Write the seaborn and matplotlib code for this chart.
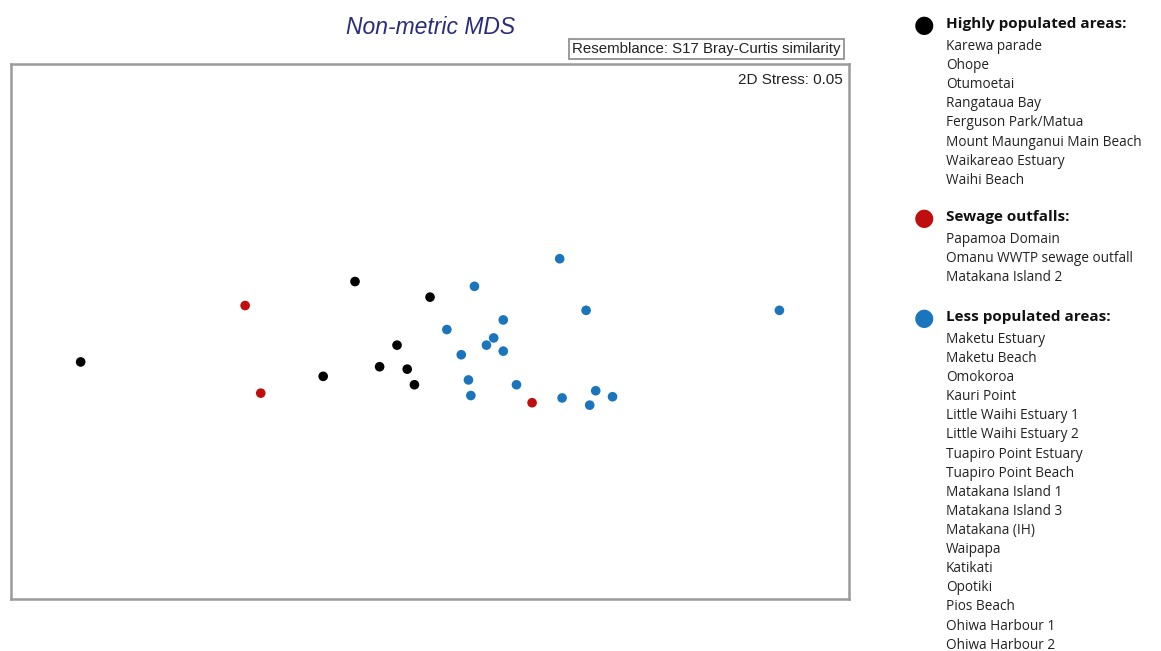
import matplotlib
matplotlib.use("Agg")
import matplotlib.pyplot as plt
import seaborn as sns
import pandas as pd

# nMDS ordination coordinates per sampling site, grouped by area type
groups = ["Highly populated areas:", "Sewage outfalls:", "Less populated areas:"]

high_x = [-2.91, -0.625, 0.00, -0.275, -0.42, -0.19, -0.13, -0.89]
high_y = [-0.25, 0.42, 0.29, -0.11, -0.29, -0.31, -0.44, -0.37]

sewage_x = [-1.54, -1.41, 0.85]
sewage_y = [0.22, -0.51, -0.59]

low_x = [1.08, 0.37, 1.30, 2.91, 0.61, 0.14, 0.53, 0.47, 0.61, 0.26,
         0.32, 0.72, 0.34, 1.10, 1.38, 1.52, 1.33]
low_y = [0.61, 0.38, 0.18, 0.18, 0.10, 0.02, -0.05, -0.11, -0.16, -0.19,
         -0.40, -0.44, -0.53, -0.55, -0.49, -0.54, -0.61]

high_sites = ["Karewa parade", "Ohope", "Otumoetai", "Rangataua Bay",
              "Ferguson Park/Matua", "Mount Maunganui Main Beach",
              "Waikareao Estuary", "Waihi Beach"]
sewage_sites = ["Papamoa Domain", "Omanu WWTP sewage outfall", "Matakana Island 2"]
low_sites = ["Maketu Estuary", "Maketu Beach", "Omokoroa", "Kauri Point",
             "Little Waihi Estuary 1", "Little Waihi Estuary 2",
             "Tuapiro Point Estuary", "Tuapiro Point Beach", "Matakana Island 1",
             "Matakana Island 3", "Matakana (IH)", "Waipapa", "Katikati",
             "Opotiki", "Pios Beach", "Ohiwa Harbour 1", "Ohiwa Harbour 2"]

colors = ["#000000", "#c00d0d", "#1a75bc"]

df = pd.DataFrame({
    "x": high_x + sewage_x + low_x,
    "y": high_y + sewage_y + low_y,
    "group": [groups[0]] * len(high_x) + [groups[1]] * len(sewage_x)
             + [groups[2]] * len(low_x),
})

sns.set_style("white")
fig = plt.figure(figsize=(11.61, 6.51), dpi=100)
ax = fig.add_axes([0.0095, 0.080, 0.7218, 0.8217])

sns.scatterplot(data=df, x="x", y="y", hue="group", hue_order=groups,
                palette=colors, s=48, linewidth=0, legend=False, ax=ax)

ax.set_xlim(-3.49, 3.49)
ax.set_ylim(-2.225, 2.233)
ax.set_xticks([])
ax.set_yticks([])
ax.set_xlabel("")
ax.set_ylabel("")
for sp in ax.spines.values():
    sp.set_visible(True)
    sp.set_color("#9a9a9a")
    sp.set_linewidth(1.8)

ax.text(0.993, 0.983, "2D Stress: 0.05", transform=ax.transAxes,
        ha="right", va="top", fontsize=11, family="Liberation Sans", color="#222222")

fig.text(0.371, 0.957, "Non-metric MDS", ha="center", va="center",
         fontsize=16.5, style="italic", family="Liberation Sans", color="#2c2c7c")

fig.text(0.6085, 0.925, "Resemblance: S17 Bray-Curtis similarity", ha="center",
         va="center", fontsize=10.8, family="Liberation Sans", color="#222222",
         bbox=dict(boxstyle="square,pad=0.2", facecolor="white",
                   edgecolor="#8a8a8a", linewidth=1.2))

# Group legend with site lists
W, H = 1161, 651
def px(xp, yp):
    return xp / W, 1 - yp / H

blocks = [(24, groups[0], high_sites, colors[0]),
          (217, groups[1], sewage_sites, colors[1]),
          (317, groups[2], low_sites, colors[2])]
step = 19.1
for y0, title, sites, col in blocks:
    mx, my = px(924, y0 + 1)
    fig.text(mx, my, "\u25CF", ha="center", va="center", fontsize=17,
             color=col, family="DejaVu Sans")
    tx, ty = px(946, y0)
    fig.text(tx, ty, title, ha="left", va="center", fontsize=11,
             fontweight="bold", family="Open Sans", color="#111111")
    for i, s in enumerate(sites):
        sx, sy = px(946, y0 + 22.5 + i * step)
        fig.text(sx, sy, s, ha="left", va="center", fontsize=9.8,
                 family="Open Sans", color="#222222")

fig.savefig("out.png", dpi=100, facecolor="white")
